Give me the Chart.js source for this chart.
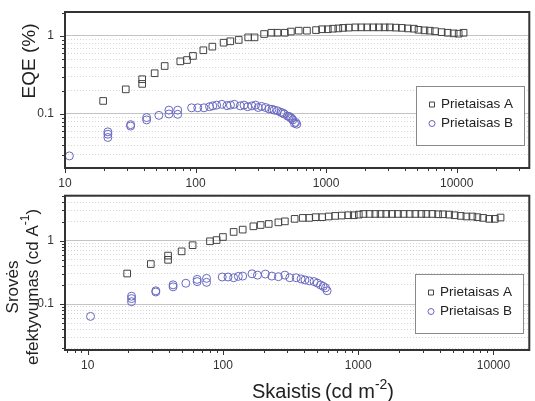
<!DOCTYPE html>
<html>
<head>
<meta charset="utf-8">
<script src="https://cdn.jsdelivr.net/npm/chart.js@4.4.1/dist/chart.umd.min.js"></script>
<style>
  body { margin: 0; background: #fff; }
  #wrap { position: relative; width: 535px; height: 401px; }
  canvas { position: absolute; left: 0; }
  #virsus { top: 0; }
  #apacia { top: 190px; }
</style>
</head>
<body>
<div id="wrap">
  <canvas id="virsus" width="535" height="190"></canvas>
  <canvas id="apacia" width="535" height="211"></canvas>
</div>
<script>
// Viršutinis grafikas: EQE (%)
const skaistisA1 = [19.6, 29.2, 39, 39, 48.6, 58, 76.4, 86, 95.5, 114.7, 134.5, 164, 184.5, 214, 253, 283, 335, 381, 424, 483, 537, 617, 713, 837, 931, 1030, 1130, 1240, 1349, 1490, 1673, 1858, 2063, 2293, 2539, 2806, 3080, 3422, 3803, 4228, 4698, 5103, 5667, 6218, 6826, 7680, 8536, 9483, 10360, 11300];
const eqeA = [0.147, 0.207, 0.279, 0.243, 0.333, 0.412, 0.473, 0.492, 0.555, 0.656, 0.73, 0.82, 0.855, 0.89, 0.96, 0.96, 1.06, 1.10, 1.10, 1.10, 1.14, 1.17, 1.17, 1.19, 1.22, 1.22, 1.24, 1.25, 1.27, 1.28, 1.29, 1.29, 1.29, 1.29, 1.29, 1.29, 1.29, 1.28, 1.27, 1.25, 1.24, 1.20, 1.18, 1.17, 1.15, 1.12, 1.10, 1.08, 1.07, 1.10];
const skaistisB1 = [10.8, 21.3, 21.3, 21.3, 31.8, 31.8, 42.2, 42.2, 52.4, 62.5, 62.5, 73, 73, 93.3, 104, 116, 128, 135.5, 145, 159, 174, 185, 198, 220, 235, 251, 270, 288, 302, 320, 344, 366, 385, 400, 424, 450, 465, 478, 507, 520, 532, 545, 555, 572, 585, 596];
const eqeB = [0.029, 0.059, 0.055, 0.050, 0.073, 0.070, 0.090, 0.084, 0.096, 0.112, 0.100, 0.112, 0.099, 0.12, 0.12, 0.12, 0.124, 0.127, 0.13, 0.133, 0.128, 0.13, 0.133, 0.127, 0.13, 0.124, 0.127, 0.13, 0.121, 0.125, 0.121, 0.116, 0.115, 0.112, 0.11, 0.105, 0.103, 0.100, 0.094, 0.093, 0.09, 0.088, 0.084, 0.076, 0.078, 0.074];

// Apatinis grafikas: srovės efektyvumas (cd/A)
const skaistisA2 = [19.6, 29.3, 39.3, 39.3, 49.5, 59.7, 80.2, 89.8, 100, 120, 140, 168, 190, 218, 257, 287, 339, 389, 435, 485, 542, 605, 676, 755, 844, 927, 1010, 1094, 1213, 1337, 1463, 1611, 1777, 1968, 2166, 2400, 2644, 2928, 3190, 3533, 3894, 4240, 4695, 5169, 5724, 6310, 6985, 7610, 8388, 9290, 10240, 11280];
const efektA = [0.303, 0.427, 0.581, 0.498, 0.677, 0.847, 0.976, 1.02, 1.14, 1.37, 1.49, 1.68, 1.76, 1.83, 1.94, 2.01, 2.2, 2.28, 2.28, 2.34, 2.34, 2.4, 2.45, 2.48, 2.51, 2.51, 2.57, 2.63, 2.63, 2.63, 2.63, 2.63, 2.63, 2.63, 2.63, 2.63, 2.63, 2.63, 2.63, 2.63, 2.6, 2.6, 2.57, 2.51, 2.45, 2.4, 2.4, 2.34, 2.28, 2.2, 2.2, 2.31];
const skaistisB2 = [10.5, 21.1, 21.1, 21.1, 31.9, 31.9, 42.8, 42.8, 53.2, 64.5, 64.5, 75.7, 75.7, 98.8, 109, 120, 130, 140, 164, 180, 206, 230, 257, 287, 312, 348, 378, 404, 435, 472, 499, 527, 551, 573, 589];
const efektB = [0.064, 0.133, 0.122, 0.109, 0.162, 0.155, 0.201, 0.187, 0.213, 0.245, 0.226, 0.254, 0.22, 0.267, 0.267, 0.26, 0.273, 0.276, 0.30, 0.286, 0.297, 0.276, 0.27, 0.286, 0.26, 0.26, 0.249, 0.24, 0.232, 0.226, 0.214, 0.20, 0.19, 0.18, 0.162];

const xZymes = [10, 100, 1000, 10000];
const yZymes = [0.1, 1];
const serijos = ["Prietaisas A", "Prietaisas B"];

const spalvaA = '#444444';
const spalvaB = '#6868c0';

function poros(xs, ys) {
    return xs.map((x, i) => ({ x: x, y: ys[i] }));
}

// visos 1..9 x 10^n žymės intervale
function logZymes(min, max) {
    const out = [];
    for (let d = Math.floor(Math.log10(min)); d <= Math.ceil(Math.log10(max)); d++) {
        for (let m = 1; m <= 9; m++) {
            const v = Number((m * Math.pow(10, d)).toPrecision(12));
            if (v >= min && v <= max) out.push({ value: v, major: m === 1 });
        }
    }
    return out;
}

function tekstas(ctx, dalys, x, y, dydis, lygiuoti) {
    const f1 = dydis + 'px "Liberation Sans", Arial, sans-serif';
    const f2 = Math.round(dydis * 0.68) + 'px "Liberation Sans", Arial, sans-serif';
    let plotis = 0;
    for (const d of dalys) {
        ctx.font = d.sup ? f2 : f1;
        plotis += ctx.measureText(d.t).width;
    }
    let cx = lygiuoti === 'center' ? x - plotis / 2 : x;
    ctx.textAlign = 'left';
    for (const d of dalys) {
        ctx.font = d.sup ? f2 : f1;
        ctx.fillText(d.t, cx, d.sup ? y - dydis * 0.45 : y);
        cx += ctx.measureText(d.t).width;
    }
}

const remelis = {
    id: 'remelis',
    afterDraw(chart, args, opts) {
        const ctx = chart.ctx;
        const a = chart.chartArea;
        ctx.save();
        // žymių brūkšneliai
        ctx.strokeStyle = '#333';
        ctx.lineWidth = 1;
        const sx = chart.scales.x, sy = chart.scales.y;
        ctx.beginPath();
        for (const t of sx.ticks) {
            const px = Math.round(sx.getPixelForValue(t.value)) + 0.5;
            ctx.moveTo(px, a.bottom);
            ctx.lineTo(px, a.bottom + (t.major ? 5 : 3));
        }
        for (const t of sy.ticks) {
            const py = Math.round(sy.getPixelForValue(t.value)) + 0.5;
            ctx.moveTo(a.left, py);
            ctx.lineTo(a.left - (t.major ? 5 : 3), py);
        }
        ctx.stroke();
        // rėmelis
        ctx.strokeStyle = '#333';
        ctx.lineWidth = 2;
        ctx.strokeRect(a.left, a.top, a.right - a.left, a.bottom - a.top);

        // legenda
        const L = opts.legenda;
        ctx.fillStyle = '#fff';
        ctx.fillRect(L.x, L.y, L.w, L.h);
        ctx.strokeStyle = '#8a8a8a';
        ctx.lineWidth = 1;
        ctx.strokeRect(L.x + 0.5, L.y + 0.5, L.w, L.h);
        ctx.textBaseline = 'middle';
        chart.data.datasets.forEach((ds, i) => {
            const ry = L.y + L.eil[i];
            const mx = L.x + 16;
            ctx.strokeStyle = ds.borderColor;
            ctx.lineWidth = 1;
            ctx.beginPath();
            if (ds.pointStyle === 'rect') ctx.rect(mx - 2.5, ry - 2.5, 5, 5);
            else ctx.arc(mx, ry, 3, 0, Math.PI * 2);
            ctx.stroke();
            ctx.fillStyle = '#222';
            ctx.font = '13.5px "Liberation Sans", Arial, sans-serif';
            ctx.textAlign = 'left';
            ctx.fillText(ds.label, L.x + 25, ry);
        });

        // ašių pavadinimai
        ctx.fillStyle = '#222';
        for (const p of opts.pavadinimai) {
            ctx.save();
            ctx.translate(p.x, p.y);
            if (p.pasukti) ctx.rotate(-Math.PI / 2);
            ctx.textBaseline = p.pasukti ? 'middle' : 'alphabetic';
            tekstas(ctx, p.dalys, 0, 0, p.dydis, p.pasukti ? 'center' : 'left');
            ctx.restore();
        }
        ctx.restore();
    }
};

function skales(xMin, xMax, yMin, yMax, xAukstis) {
    return {
        x: {
            type: 'logarithmic',
            min: xMin,
            max: xMax,
            afterBuildTicks: s => { s.ticks = logZymes(xMin, xMax); },
            afterFit: s => {
                s.height = xAukstis;
                s.paddingLeft = 0; s.paddingRight = 0;
            },
            grid: { display: false, drawTicks: false },
            border: { display: false },
            ticks: {
                autoSkip: false,
                maxRotation: 0,
                padding: 8,
                color: '#333',
                font: { size: 12, family: '"Liberation Sans", Arial, sans-serif' },
                callback: v => xZymes.includes(v) ? String(v) : ''
            }
        },
        y: {
            type: 'logarithmic',
            min: yMin,
            max: yMax,
            afterBuildTicks: s => { s.ticks = logZymes(yMin, yMax); },
            afterFit: s => {
                s.width = 65;
                s.paddingTop = 0; s.paddingBottom = 0;
            },
            grid: {
                drawTicks: false,
                lineWidth: 1,
                color: c => (c.tick && c.tick.major) ? '#c4c4c4' : '#d6d6d6'
            },
            border: {
                display: false,
                dash: c => (c.tick && !c.tick.major) ? [1, 2] : []
            },
            ticks: {
                autoSkip: false,
                padding: 11,
                color: '#333',
                font: { size: 12, family: '"Liberation Sans", Arial, sans-serif' },
                callback: v => yZymes.includes(v) ? String(v) : ''
            }
        }
    };
}

function rinkiniai(xa, ya, xb, yb) {
    return [
        {
            label: serijos[0],
            data: poros(xa, ya),
            pointStyle: 'rect',
            pointRadius: 4.7,
            borderColor: spalvaA,
            backgroundColor: 'rgba(0,0,0,0)',
            borderWidth: 1
        },
        {
            label: serijos[1],
            data: poros(xb, yb),
            pointStyle: 'circle',
            pointRadius: 4,
            borderColor: spalvaB,
            backgroundColor: 'rgba(0,0,0,0)',
            borderWidth: 1
        }
    ];
}

new Chart(document.getElementById('virsus'), {
    type: 'scatter',
    data: { datasets: rinkiniai(skaistisA1, eqeA, skaistisB1, eqeB) },
    options: {
        responsive: false,
        animation: false,
        layout: { padding: { top: 12, right: 2, left: 0, bottom: 0 } },
        scales: skales(10, 36000, 0.0203, 2.03, 22),
        plugins: {
            legend: { display: false },
            tooltip: { enabled: false },
            remelis: {
                legenda: { x: 416, y: 86, w: 108, h: 59, eil: [18.5, 37.5] },
                pavadinimai: [
                    { x: 30, y: 61, pasukti: true, dydis: 19, dalys: [{ t: 'EQE (%)' }] }
                ]
            }
        }
    },
    plugins: [remelis]
});

new Chart(document.getElementById('apacia'), {
    type: 'scatter',
    data: { datasets: rinkiniai(skaistisA2, efektA, skaistisB2, efektB) },
    options: {
        responsive: false,
        animation: false,
        layout: { padding: { top: 2, right: 2, left: 0, bottom: 0 } },
        scales: skales(6.8, 18400, 0.0189, 5.1, 51),
        plugins: {
            legend: { display: false },
            tooltip: { enabled: false },
            remelis: {
                legenda: { x: 415, y: 84, w: 108, h: 59, eil: [18.5, 37.5] },
                pavadinimai: [
                    { x: 13, y: 97, pasukti: true, dydis: 17, dalys: [{ t: 'Srovės' }] },
                    { x: 33, y: 97, pasukti: true, dydis: 17, dalys: [{ t: 'efektyvumas (cd A' }, { t: '-1', sup: true }, { t: ')' }] },
                    { x: 252, y: 208, pasukti: false, dydis: 20, dalys: [{ t: 'Skaistis\u2009(cd m' }, { t: '-2', sup: true }, { t: ')' }] }
                ]
            }
        }
    },
    plugins: [remelis]
});
</script>
</body>
</html>
